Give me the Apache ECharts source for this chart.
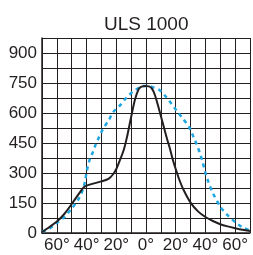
<!DOCTYPE html>
<html>
<head>
<meta charset="utf-8">
<script src="https://cdn.jsdelivr.net/npm/echarts@6/dist/echarts.min.js"></script>
<style>
  html, body { margin: 0; padding: 0; background: #fff; }
  #chart { width: 253px; height: 255px; }
</style>
</head>
<body>
<div id="chart"></div>
<script>
// angle in degrees, intensity values
const blackAngles = [-70, -65, -60, -55, -50, -45, -42, -40, -35, -30, -25, -22, -20, -17.5, -15, -13, -10, -7.5, -5, -3, 0, 2, 4, 6, 8, 10, 12, 14, 16, 18, 20, 22, 25, 30, 35, 40, 45, 50, 55, 60, 65, 70];
const blackValues = [5, 30, 57, 95, 145, 198, 228, 237, 248, 258, 272, 295, 320, 365, 415, 473, 580, 665, 718, 732, 735, 733, 722, 690, 640, 585, 530, 475, 425, 368, 320, 275, 220, 152, 108, 80, 60, 44, 33, 24, 16, 10];

const blueAngles = [-70, -65, -60, -55, -50, -45, -43, -41, -40, -38, -36, -34, -32, -29, -25, -22, -17, -13, -9, -5, -2, 2, 5, 9, 13, 17, 21, 25, 29, 32, 34, 36, 38, 40, 42, 45, 50, 55, 60, 65, 70];
const blueValues = [7, 22, 50, 80, 122, 175, 207, 258, 305, 365, 400, 440, 473, 520, 565, 605, 642, 678, 705, 725, 735, 735, 728, 715, 685, 648, 608, 570, 530, 480, 445, 405, 358, 300, 255, 200, 132, 88, 55, 28, 12];

const xTickLabels = [-60, -40, -20, 0, 20, 40, 60];
const yTickLabels = [0, 150, 300, 450, 600, 750, 900];

const zip = (xs, ys) => xs.map((x, i) => [x, ys[i]]);

const chart = echarts.init(document.getElementById('chart'));
chart.setOption({
  animation: false,
  backgroundColor: '#fff',
  title: {
    text: 'ULS 1000',
    left: 99,
    top: 10,
    textStyle: { fontFamily: 'Liberation Sans, Arial, sans-serif', fontSize: 19, fontWeight: 'normal', color: '#231f20' },
  },
  grid: { left: 42, right: 1, top: 38, bottom: 22 },
  xAxis: {
    type: 'value',
    min: -70,
    max: 70,
    interval: 10,
    axisLine: { onZero: false, lineStyle: { color: '#231f20', width: 1.5 } },
    axisTick: { show: false },
    splitLine: { show: true, lineStyle: { color: '#231f20', width: 1 } },
    axisLabel: {
      margin: 4,
      color: '#231f20',
      fontFamily: 'Liberation Sans, Arial, sans-serif',
      fontSize: 17,
      formatter: v => xTickLabels.includes(v) ? Math.abs(v) + '°' : '',
    },
  },
  yAxis: {
    type: 'value',
    min: 0,
    max: 975,
    interval: 75,
    axisLine: { show: true, onZero: false, lineStyle: { color: '#231f20', width: 1.5 } },
    axisTick: { show: false },
    splitLine: { show: true, lineStyle: { color: '#231f20', width: 1 } },
    axisLabel: {
      margin: 5,
      color: '#231f20',
      fontFamily: 'Liberation Sans, Arial, sans-serif',
      fontSize: 17,
      formatter: v => yTickLabels.includes(v) ? String(v) : '',
    },
  },
  series: [
    {
      type: 'line',
      smooth: 0.3,
      showSymbol: false,
      lineStyle: { color: '#1ea7e1', width: 2.5, type: [4, 4] },
      data: zip(blueAngles, blueValues),
      z: 3,
    },
    {
      type: 'line',
      smooth: 0.3,
      showSymbol: false,
      lineStyle: { color: '#231f20', width: 2 },
      data: zip(blackAngles, blackValues),
      z: 4,
    },
  ],
});
</script>
</body>
</html>
